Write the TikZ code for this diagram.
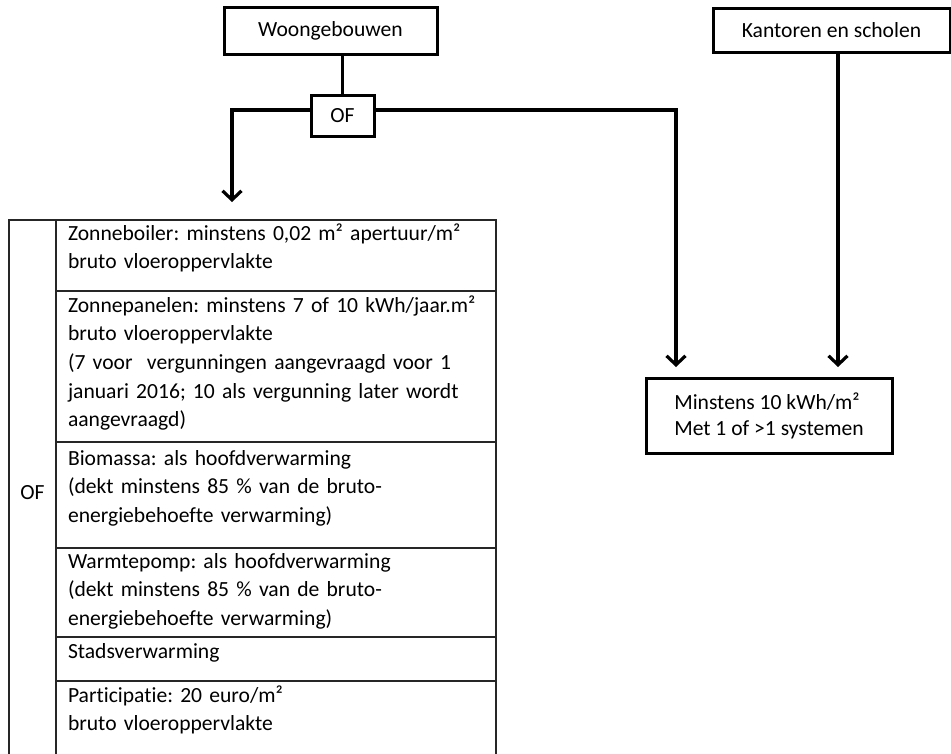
\documentclass[tikz,border=0pt]{standalone}
\usepackage{fontspec}
\setmainfont{Carlito}[Ligatures=NoCommon]
\usetikzlibrary{positioning}
\usetikzlibrary{arrows.meta,calc}
\tikzset{
    %Define standard arrow tip
    >={Straight Barb[length=9pt,width=19pt]},
    % Define arrow style
    pil/.style={
           ->,
           color=black,
           line width=3.2pt,}
}
\newcommand{\boxfont}{\frenchspacing\fontsize{21.6}{28.7}\selectfont}

\begin{document}
\begin{tikzpicture}[x=1pt, y=-1pt, outer sep=0pt]
\tikzstyle{headbox}=[draw=black, fill=white, rectangle, line width=3pt, font=\boxfont,
                   inner sep=0pt, align=center]
\tikzstyle{cellbox}=[draw=black!85, rectangle, line width=2.4pt, anchor=north west,
                   minimum width=440pt, inner sep=0pt]
\tikzstyle{celltext}=[anchor=north west, inner sep=0pt, text width=428pt, align=left, font=\boxfont]

\useasboundingbox (0,0) rectangle (951,753);
\clip (0,0) rectangle (951,753);

%%%%%%%%%%%%%%%%%%%%%%%%%%%%%%%%%
% Top boxes
%%%%%%%%%%%%%%%%%%%%%%%%%%%%%%%%%
    \node[headbox, minimum width=213pt, minimum height=47pt] (woon)  at (330.5,30.5) {Woongebouwen};
    \node[headbox, minimum width=63pt, minimum height=41pt]  (of)    at (342.5,115.5) {OF};
    \node[headbox, minimum width=237pt, minimum height=44pt] (kant)  at (831.5,30) {Kantoren en scholen};
    \node[headbox, minimum width=246pt, minimum height=75pt, align=left,
          font=\frenchspacing\fontsize{21.6}{26}\selectfont] (minst) at (769,415.5) {Minstens 10 kWh/m²\\Met 1 of >1 systemen};

%%%%%%%%%%%%%%%%%%%%%%%%%%%%%%%%%
% Table
%%%%%%%%%%%%%%%%%%%%%%%%%%%%%%%%%
    \node[cellbox, minimum height=71pt]  (zb)   at (56,220) {};
    \node[cellbox, minimum height=151pt] (zp)   at (56,291) {};
    \node[cellbox, minimum height=106pt] (bio)  at (56,442) {};
    \node[cellbox, minimum height=89pt]  (wp)   at (56,548) {};
    \node[cellbox, minimum height=44pt]  (stad) at (56,637) {};
    \node[cellbox, minimum height=80pt]  (part) at (56,681) {};
    \node[cellbox, anchor=north east, minimum width=47pt, minimum height=546pt,
          font=\boxfont] (ofcol) at (56,220) {OF};

    \node[celltext] (zbtxt)   at (68,220) {\strut Zonneboiler: minstens 0,02 m² apertuur/m²\\bruto vloeroppervlakte};
    \node[celltext] (zptxt)   at (68,292) {\strut Zonnepanelen: minstens 7 of 10 kWh/jaar.m²\\bruto vloeroppervlakte\\
        (7 voor~ vergunningen aangevraagd voor 1\\januari 2016; 10 als vergunning later wordt\\aangevraagd)};
    \node[celltext] (biotxt)  at (68,445) {\strut Biomassa: als hoofdverwarming\\(dekt minstens 85 \% van de bruto-\\
        energiebehoefte verwarming)};
    \node[celltext] (wptxt)   at (68,548) {\strut Warmtepomp: als hoofdverwarming\\(dekt minstens 85 \% van de bruto-\\
        energiebehoefte verwarming)};
    \node[celltext] (stadtxt) at (68,638) {\strut Stadsverwarming};
    \node[celltext] (parttxt) at (68,682) {\strut Participatie: 20 euro/m²\\bruto vloeroppervlakte};

%%%%%%%%%%%%%%%%%%%%%%%%%%%%%%%%%
% Connectors
%%%%%%%%%%%%%%%%%%%%%%%%%%%%%%%%%
\path[pil,-] (woon.south -| of.north) edge (of.north);
\draw[pil, shorten >=18pt] ([yshift=5.5pt]of.west) -| ([xshift=176pt]zb.north west);
\draw[pil, shorten >=11pt] ([yshift=5.5pt]of.east) -| ([xshift=30pt]minst.north west);
\draw[pil, shorten >=11pt] ([xshift=6.5pt]kant.south) -- ([xshift=6.5pt]kant.south |- minst.north);

\end{tikzpicture}
\end{document}
